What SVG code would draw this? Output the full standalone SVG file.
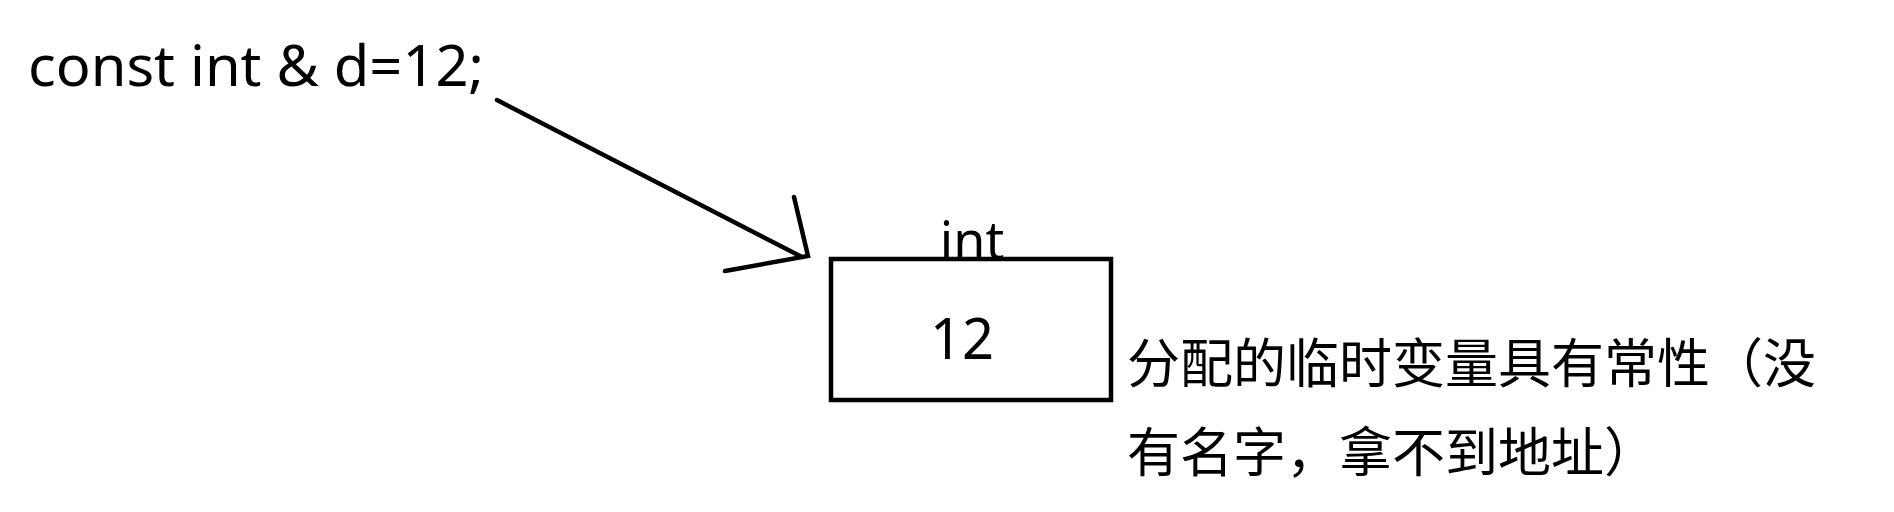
<svg xmlns="http://www.w3.org/2000/svg" width="1894" height="512" viewBox="0 0 1894 512">
<style>
.t{font-family:"Noto Sans","Liberation Sans",sans-serif;fill:#000}
.cjk{font-family:"Noto Sans CJK SC","Noto Sans",sans-serif;fill:#000;font-size:53px}
.ln{stroke:#000;stroke-width:4.5;fill:none;stroke-linecap:round}
</style>
<rect width="1894" height="512" fill="#fff"/>
<g id="code">
<text class="t" x="28" y="86" font-size="56" textLength="456" lengthAdjust="spacingAndGlyphs">const int &amp; d=12;</text>
</g>
<g id="connectors">
<path class="ln" d="M497 100 L802 257"/>
<path class="ln" d="M794 197 L808 256 L725 271"/>
</g>
<g id="box">
<text class="t" x="972" y="259" font-size="52" text-anchor="middle">int</text>
<rect x="831" y="259" width="280" height="141" fill="none" stroke="#000" stroke-width="4.5"/>
<text class="t" x="962" y="359" font-size="56" text-anchor="middle">12</text>
</g>
<g id="note">
<text class="cjk" x="1127" y="383" textLength="689" lengthAdjust="spacing">分配的临时变量具有常性（没</text>
<text class="cjk" x="1127" y="472">有名字，拿不到地址）</text>
</g>
</svg>
